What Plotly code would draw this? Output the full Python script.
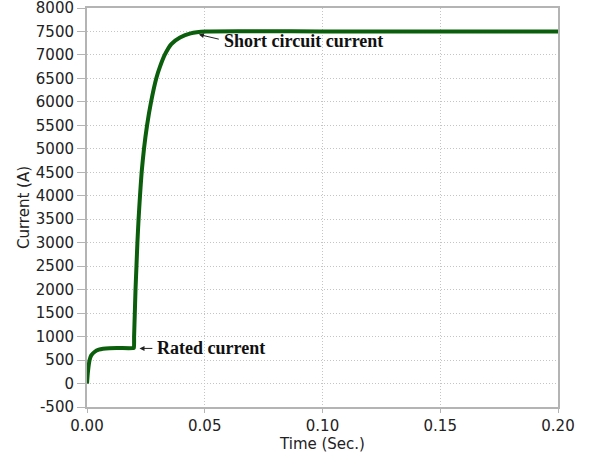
import plotly.graph_objects as go

# Values
time_s = [0.0, 0.0004, 0.0011, 0.0018, 0.0033, 0.0050, 0.0068, 0.0095, 0.0130,
          0.0196, 0.0199, 0.0200, 0.0203, 0.0206, 0.0210, 0.0214, 0.0219, 0.0225,
          0.0232, 0.0242, 0.0255, 0.0272, 0.0294, 0.0310, 0.0330, 0.0358,
          0.0395, 0.0440, 0.0505, 0.1000, 0.1500, 0.2000]
current_a = [0, 250, 500, 600, 677, 720, 740, 752, 755,
             755, 760, 1000, 1500, 2000, 2500, 3000, 3500, 4000,
             4500, 5000, 5500, 6000, 6500, 6750, 7000, 7230,
             7370, 7460, 7500, 7500, 7500, 7500]

x_ticks = [0.0, 0.05, 0.10, 0.15, 0.20]
x_labels = ["0.00", "0.05", "0.10", "0.15", "0.20"]
y_ticks = list(range(-500, 8001, 500))
y_labels = [str(v) for v in y_ticks]

fig = go.Figure()
fig.add_trace(go.Scatter(x=time_s, y=current_a, mode="lines",
                         line=dict(color="#0b5e0b", width=4, shape="spline", smoothing=0.6),
                         showlegend=False))

serif = "Liberation Serif, Times New Roman, serif"
# arrows
fig.add_annotation(x=0.0223, y=748, ax=0.0284, ay=748, axref="x", ayref="y",
                   text="", showarrow=True, arrowhead=2, arrowsize=1, arrowwidth=1,
                   arrowcolor="#222")
fig.add_annotation(x=0.0475, y=7436, ax=0.0566, ay=7329, axref="x", ayref="y",
                   text="", showarrow=True, arrowhead=2, arrowsize=1, arrowwidth=1,
                   arrowcolor="#222")
# labels
fig.add_annotation(x=0.0287, y=750, text="<b>Rated current</b>", showarrow=False,
                   xanchor="left", yanchor="middle",
                   font=dict(family=serif, size=18, color="#111"))
fig.add_annotation(x=0.0574, y=7290, text="<b>Short circuit current</b>", showarrow=False,
                   xanchor="left", yanchor="middle",
                   font=dict(family=serif, size=18, color="#111"))

axis_font = dict(family="DejaVu Sans, Verdana, sans-serif", size=15, color="#222")
grid_style = dict(showgrid=True, gridcolor="#c4c4c4", griddash="1px,2px", gridwidth=1)
fig.update_layout(
    width=593, height=455,
    margin=dict(l=87, r=35, t=8, b=48, autoexpand=False),
    paper_bgcolor="white", plot_bgcolor="white",
    font=axis_font,
    xaxis=dict(range=[0, 0.2], tickvals=x_ticks, ticktext=x_labels,
               showline=True, linecolor="#b4b4b4", linewidth=1.5, mirror=True,
               ticks="outside", ticklen=4, tickcolor="#b4b4b4", zeroline=False,
               automargin=False, ticklabeloverflow="allow",
               title=dict(text="Time (Sec.)", standoff=2, font=axis_font),
               tickfont=axis_font, **grid_style),
    yaxis=dict(range=[-500, 8000], tickvals=y_ticks, ticktext=y_labels,
               showline=True, linecolor="#b4b4b4", linewidth=2, mirror=True,
               ticks="outside", ticklen=8, tickcolor="#b4b4b4", zeroline=False,
               automargin=False, ticklabeloverflow="allow",
               title=dict(text="Current (A)", standoff=3, font=axis_font),
               tickfont=axis_font, **grid_style),
)

fig.write_html("out.html", config={"displayModeBar": False},
               post_script="document.body.style.margin='0';document.body.style.overflow='hidden';")
